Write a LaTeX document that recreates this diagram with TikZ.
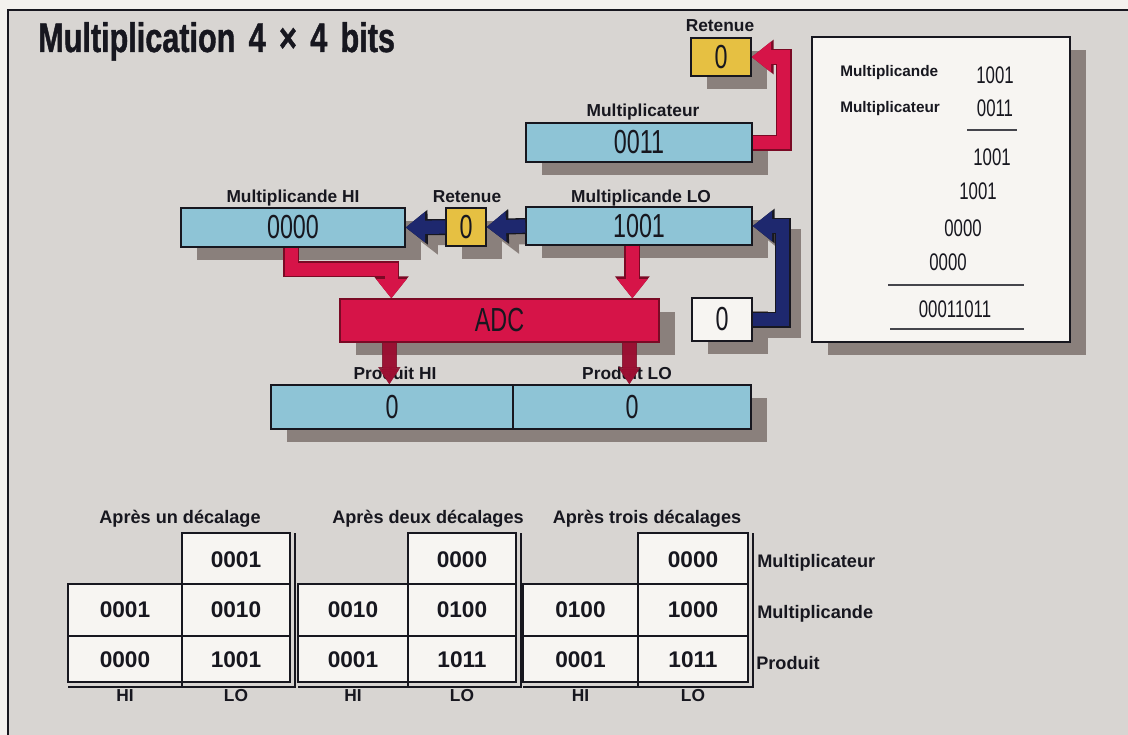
\documentclass[tikz,border=0pt]{standalone}
\usepackage{fontspec}
\setmainfont{Liberation Sans}
\newfontfamily\digf{Liberation Sans}[FakeStretch=0.7]
\newfontfamily\titf{Liberation Sans}[FakeStretch=0.74,FakeBold=1]
\usetikzlibrary{arrows.meta,shadows,calc}
\definecolor{bgout}{HTML}{F3F1EE}
\definecolor{panel}{HTML}{D8D5D2}
\definecolor{boxblue}{HTML}{8EC4D6}
\definecolor{boxyel}{HTML}{E6C042}
\definecolor{boxred}{HTML}{D61448}
\definecolor{redline}{HTML}{7A0A25}
\definecolor{darkred}{HTML}{A01034}
\definecolor{navy}{HTML}{1E286E}
\definecolor{shad}{HTML}{8A807C}
\definecolor{paper}{HTML}{F7F5F2}
\definecolor{ink}{HTML}{17171F}
\pgfdeclarelayer{back}
\pgfdeclarelayer{bg}
\pgfsetlayers{back,bg,main}
\tikzset{
  every node/.style={inner sep=0pt, text=ink},
  sh/.style={drop shadow={shadow xshift=12pt,shadow yshift=-9.75pt,fill=shad,opacity=1}},
  sz/.style 2 args={minimum width={#1*0.75pt}, minimum height={#2*0.75pt}},
  reg/.style={draw=ink, line width=1pt, sh, font=\digf\fontsize{25}{25}\selectfont},
  lbl/.style={anchor=base, font=\bfseries\fontsize{13}{13}\selectfont},
  num/.style={font=\digf\fontsize{18}{18}\selectfont},
  cell/.style={font=\bfseries\fontsize{17}{17}\selectfont},
  hl/.style={font=\bfseries\fontsize{13}{13}\selectfont},
  tline/.style={draw=ink, line width=1.4pt},
  tline2/.style={draw=ink, line width=0.9pt},
  fatout/.style={draw=ink, line width=12pt, line join=miter, -{Triangle[width=25pt,length=16.5pt]}},
  fatin/.style={line width=10pt, line join=miter, -{Triangle[width=22pt,length=14.5pt]}},
  thinout/.style={draw=redline, line width=11.5pt, -{Triangle[width=16pt,length=13pt]}},
  thinin/.style={draw=darkred, line width=9.5pt, -{Triangle[width=13.5pt,length=11pt]}},
  shadarrow/.style={draw=shad, line width=11pt, line join=miter, -{Triangle[width=24pt,length=16pt]}, transform canvas={shift={(8pt,-8pt)}}},
}
\newcommand\decal[9]{%
  \fill[paper] (#2,584) rectangle (#4,682);
  \fill[paper] (#3,533) rectangle (#4,584);
  \draw[tline] (#2,584) -- (#3,584) -- (#3,533) -- (#4,533) -- (#4,682) -- (#2,682) -- cycle;
  \draw[tline] (#3,584) -- (#4,584) (#2,636) -- (#4,636) (#3,533) -- (#3,687);
  \draw[tline2] ({#4+5},533) -- ({#4+5},687) -- (#2,687);
  \node[cell] (#1r1lo) at ({(#3+#4)/2},560) {#5};
  \node[cell] (#1r2hi) at ({(#2+#3)/2},610) {#6};
  \node[cell] (#1r2lo) at ({(#3+#4)/2},610) {#7};
  \node[cell] (#1r3hi) at ({(#2+#3)/2},660) {#8};
  \node[cell] (#1r3lo) at ({(#3+#4)/2},660) {#9};
  \node[hl] (#1hi) at ({(#2+#3)/2},696) {HI};
  \node[hl] (#1lo) at ({(#3+#4)/2},696) {LO};
}
\begin{document}
\begin{tikzpicture}[x=0.75pt,y=-0.75pt]
\useasboundingbox (0,0) rectangle (1128,735);
\begin{pgfonlayer}{back}
  \fill[bgout] (0,0) rectangle (1128,735);
  \fill[panel] (8,10) rectangle (1128,735);
  \draw[ink, line width=1.4pt] (8,735) -- (8,10) -- (1128,10);
\end{pgfonlayer}

% title
\node[anchor=base west, font=\titf\bfseries\fontsize{31}{31}\selectfont] (title) at (38,52) {Multiplication\hspace{10pt}4\hspace{10pt}×\hspace{10pt}4\hspace{10pt}bits};

% right sheet
\node[draw=ink, line width=1.2pt, fill=paper, sz={258}{305}, sh] (sheet) at (941,189.5) {};
\node[anchor=base west, font=\bfseries\fontsize{11.5}{11.5}\selectfont] (sl1) at (840,77) {Multiplicande};
\node[anchor=base west, font=\bfseries\fontsize{11.5}{11.5}\selectfont] (sl2) at (840,113) {Multiplicateur};
\node[num] (s1) at (995,75) {1001};
\node[num] (s2) at (995,108) {0011};
\node[num] (s3) at (992,157.5) {1001};
\node[num] (s4) at (978,191.5) {1001};
\node[num] (s5) at (963,228.5) {0000};
\node[num] (s6) at (948,262) {0000};
\node[num] (s7) at (955,309) {00011011};
\draw[ink!80, line width=0.9pt] (967,130) -- (1017,130);
\draw[ink!80, line width=0.9pt] (888,285) -- (1024,285);
\draw[ink!80, line width=0.9pt] (890,329) -- (1024,329);

% registers
\node[reg, fill=boxyel, sz={60}{38}] (ret1) at (721,57) {0};
\node[lbl] (ret1lab) at (720,32) {Retenue};
\node[reg, fill=boxblue, sz={226}{39}] (mcat) at (639,142.5) {0011};
\node[lbl] (mcatlab) at (643,117) {Multiplicateur};
\node[reg, fill=boxblue, sz={224}{39}] (mhi) at (293,227.5) {0000};
\node[lbl] (mhilab) at (293,202) {Multiplicande HI};
\node[reg, fill=boxyel, sz={40}{38}] (ret2) at (466,227) {0};
\node[lbl] (ret2lab) at (467,202) {Retenue};
\node[reg, fill=boxblue, sz={226}{38}] (mlo) at (639,226) {1001};
\node[lbl] (mlolab) at (641,202) {Multiplicande LO};
\node[reg, fill=paper, sz={60}{43}] (zero) at (722,319.5) {0};
\node[reg, draw=redline, fill=boxred, sz={319}{43}] (adc) at (499.5,320.5) {ADC};
\node[reg, fill=boxblue, sz={242}{44}] (phi) at (392,407) {0};
\node[reg, fill=boxblue, sz={238}{44}] (plo) at (632,407) {0};
\node[lbl] (plab1) at (395,379) {Produit HI};
\node[lbl] (plab2) at (627,379) {Produit LO};

% arrow shadows
\begin{pgfonlayer}{bg}
  \draw[shadarrow] (mlo.west) -- (ret2.east);
  \draw[shadarrow] (ret2.west) -- (mhi.east);
  \draw[shadarrow] (zero.east) -| ($(mlo.east)+(30,0)$) -- (mlo.east);
\end{pgfonlayer}

% red arrow multiplicateur -> retenue
\draw[fatout, draw=redline] (mcat.east) -| ($(ret1.east)+(32,0)$) -- (ret1.east);
\draw[fatin, draw=boxred] (mcat.east) -| ($(ret1.east)+(32,0)$) -- (ret1.east);

% navy arrows
\draw[fatout] (mlo.west) -- (ret2.east);
\draw[fatin, draw=navy] (mlo.west) -- (ret2.east);
\draw[fatout] (ret2.west) -- (mhi.east);
\draw[fatin, draw=navy] (ret2.west) -- (mhi.east);
\draw[fatout] (zero.east) -| ($(mlo.east)+(30,0)$) -- (mlo.east);
\draw[fatin, draw=navy] (zero.east) -| ($(mlo.east)+(30,0)$) -- (mlo.east);

% red arrows into ADC
\draw[fatout, draw=redline] ($(mhi.south west)+(111,0)$) |- ($(adc.north west)+(52,-29)$) -- ($(adc.north west)+(52,0)$);
\draw[fatin, draw=boxred] ($(mhi.south west)+(111,0)$) |- ($(adc.north west)+(52,-29)$) -- ($(adc.north west)+(52,0)$);
\draw[fatout, draw=redline] ($(mlo.south west)+(107,0)$) -- ($(adc.north west)+(293,0)$);
\draw[fatin, draw=boxred] ($(mlo.south west)+(107,0)$) -- ($(adc.north west)+(293,0)$);

% ADC -> produit
\begin{scope}[opacity=0.85]
\draw[thinout] ($(adc.south west)+(50,0)$) -- ($(phi.north west)+(119,0)$);
\draw[thinin] ($(adc.south west)+(50,0)$) -- ($(phi.north west)+(119,0)$);
\draw[thinout] ($(adc.south west)+(290,0)$) -- ($(plo.north west)+(117,0)$);
\draw[thinin] ($(adc.south west)+(290,0)$) -- ($(plo.north west)+(117,0)$);
\end{scope}

% shift tables
\node[anchor=base, font=\bfseries\fontsize{13.6}{13.6}\selectfont] (t1) at (180,523) {Après un décalage};
\node[anchor=base, font=\bfseries\fontsize{13.6}{13.6}\selectfont] (t2) at (428,523) {Après deux décalages};
\node[anchor=base, font=\bfseries\fontsize{13.6}{13.6}\selectfont] (t3) at (647,523) {Après trois décalages};
\decal{a}{68}{182}{290}{0001}{0001}{0010}{0000}{1001}
\decal{b}{298}{408}{516}{0000}{0010}{0100}{0001}{1011}
\decal{c}{523}{638}{748}{0000}{0100}{1000}{0001}{1011}
\node[anchor=base west, font=\bfseries\fontsize{13.6}{13.6}\selectfont] (rl1) at (757,567) {Multiplicateur};
\node[anchor=base west, font=\bfseries\fontsize{13.6}{13.6}\selectfont] (rl2) at (757,618) {Multiplicande};
\node[anchor=base west, font=\bfseries\fontsize{13.6}{13.6}\selectfont] (rl3) at (756,669) {Produit};
\end{tikzpicture}
\end{document}
